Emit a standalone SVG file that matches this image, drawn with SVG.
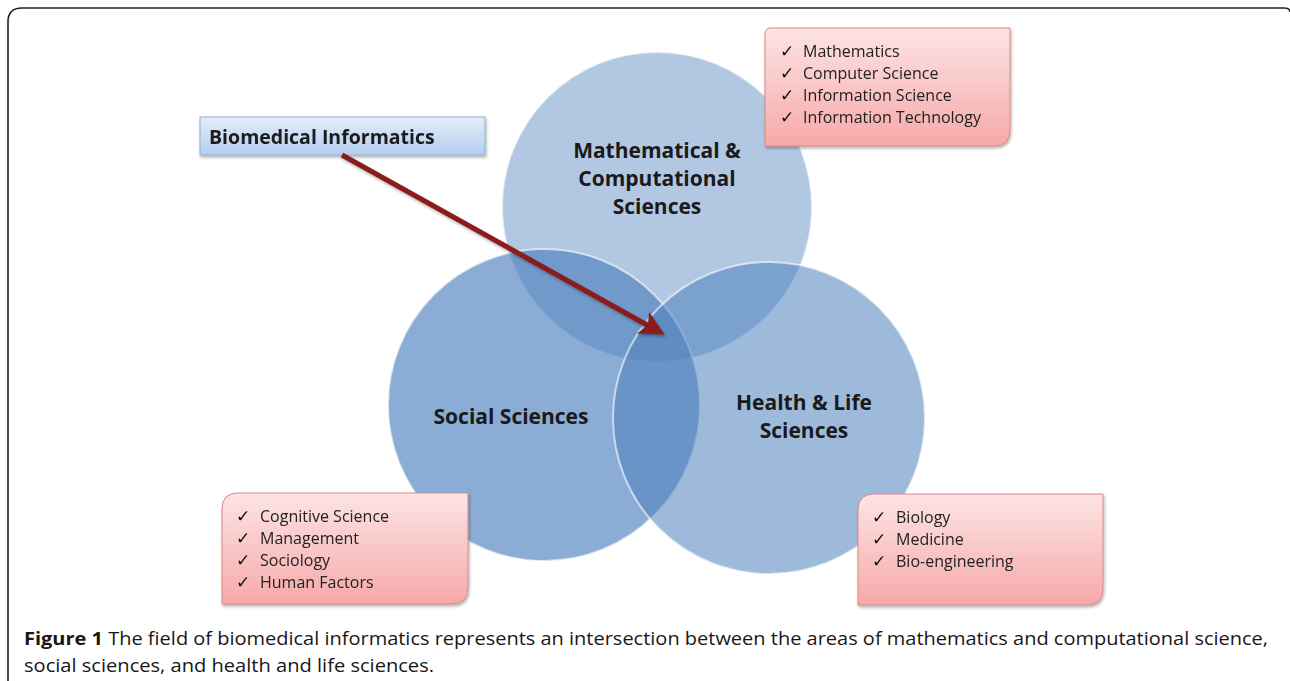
<svg xmlns="http://www.w3.org/2000/svg" width="1290" height="681" viewBox="0 0 1290 681">
<defs>
<linearGradient id="pink" x1="0" y1="0" x2="0" y2="1">
<stop offset="0" stop-color="#fde4e4"/><stop offset="1" stop-color="#f6a9a9"/>
</linearGradient>
<linearGradient id="blue" x1="0" y1="0" x2="0" y2="1">
<stop offset="0" stop-color="#e3edfa"/><stop offset="1" stop-color="#b5cdee"/>
</linearGradient>
<marker id="ah" markerWidth="5" markerHeight="5" refX="3" refY="2.5" orient="auto" markerUnits="strokeWidth">
<path d="M0,0 L5,2.5 L0,5 L1.2,2.5 Z" fill="#8b1a1a"/>
</marker>
<filter id="sh" x="-10%" y="-10%" width="130%" height="140%">
<feDropShadow dx="1" dy="2" stdDeviation="1.5" flood-color="#000" flood-opacity="0.3"/>
</filter>
</defs>
<style>
.circ{stroke:#ffffff;stroke-width:2;stroke-opacity:0.6}
.lbl{font-family:"Open Sans",sans-serif;font-weight:bold;font-size:21px;fill:#1a1a1a;text-anchor:middle}
.li{font-family:"Open Sans",sans-serif;font-size:16px;fill:#222}
.ck{font-family:"DejaVu Sans",sans-serif;font-size:17px;fill:#111}
.box{fill:url(#pink);stroke:#d58a8a;stroke-width:1}
.cap{font-family:"Open Sans",sans-serif;font-size:18px;fill:#1a1718}
</style>
<rect x="0" y="0" width="1290" height="681" fill="#fff"/>
<path d="M8,681 L8,22 Q8,8 22,8 L1284,8 Q1290,8 1290,12" fill="none" stroke="#222" stroke-width="1.6"/>
<g id="circle-math"><circle class="circ" cx="657" cy="207" r="155" fill="#4f81bd" fill-opacity="0.44"/></g>
<g id="circle-social"><circle class="circ" cx="544" cy="405" r="156" fill="#4f81bd" fill-opacity="0.66"/></g>
<g id="circle-health"><circle class="circ" cx="769" cy="418" r="156" fill="#4f81bd" fill-opacity="0.55"/></g>
<g id="labels">
<text class="lbl" x="657" y="158">Mathematical &amp;</text>
<text class="lbl" x="657" y="186">Computational</text>
<text class="lbl" x="657" y="214">Sciences</text>
<text class="lbl" x="511" y="424">Social Sciences</text>
<text class="lbl" x="804" y="410">Health &amp; Life</text>
<text class="lbl" x="804" y="438">Sciences</text>
</g>
<g id="box-math" filter="url(#sh)">
<path class="box" d="M771,28 L1010,28 L1010,130 Q1010,146 994,146 L765,146 L765,34 Q765,28 771,28 Z"/>
<text class="ck" x="780" y="57">✓</text><text class="li" x="803" y="57">Mathematics</text>
<text class="ck" x="780" y="79">✓</text><text class="li" x="803" y="79">Computer Science</text>
<text class="ck" x="780" y="101">✓</text><text class="li" x="803" y="101">Information Science</text>
<text class="ck" x="780" y="123">✓</text><text class="li" x="803" y="123">Information Technology</text>
</g>
<g id="box-social" filter="url(#sh)">
<path class="box" d="M238,493 L468,493 L468,588 Q468,604 452,604 L222,604 L222,509 Q222,493 238,493 Z"/>
<text class="ck" x="236" y="522">✓</text><text class="li" x="260" y="522">Cognitive Science</text>
<text class="ck" x="236" y="544">✓</text><text class="li" x="260" y="544">Management</text>
<text class="ck" x="236" y="566">✓</text><text class="li" x="260" y="566">Sociology</text>
<text class="ck" x="236" y="588">✓</text><text class="li" x="260" y="588">Human Factors</text>
</g>
<g id="box-health" filter="url(#sh)">
<path class="box" d="M874,494 L1103,494 L1103,589 Q1103,605 1087,605 L858,605 L858,510 Q858,494 874,494 Z"/>
<text class="ck" x="872" y="523">✓</text><text class="li" x="896" y="523">Biology</text>
<text class="ck" x="872" y="545">✓</text><text class="li" x="896" y="545">Medicine</text>
<text class="ck" x="872" y="567">✓</text><text class="li" x="896" y="567">Bio-engineering</text>
</g>
<g id="box-bmi" filter="url(#sh)">
<rect x="200" y="117" width="285" height="38" fill="url(#blue)" stroke="#8eaedb" stroke-width="1"/>
<text x="209" y="144" font-family="Open Sans, sans-serif" font-weight="bold" font-size="19.5px" fill="#1a1a1a">Biomedical Informatics</text>
</g>
<g id="connectors">
<line x1="342" y1="155" x2="656" y2="330" stroke="#8b1a1a" stroke-width="5" marker-end="url(#ah)" filter="url(#sh)"/>
</g>
<g id="caption">
<text class="cap" x="24" y="645" textLength="1244" lengthAdjust="spacingAndGlyphs"><tspan font-weight="bold">Figure 1</tspan> The field of biomedical informatics represents an intersection between the areas of mathematics and computational science,</text>
<text class="cap" x="24" y="672" textLength="410" lengthAdjust="spacingAndGlyphs">social sciences, and health and life sciences.</text>
</g>
</svg>
